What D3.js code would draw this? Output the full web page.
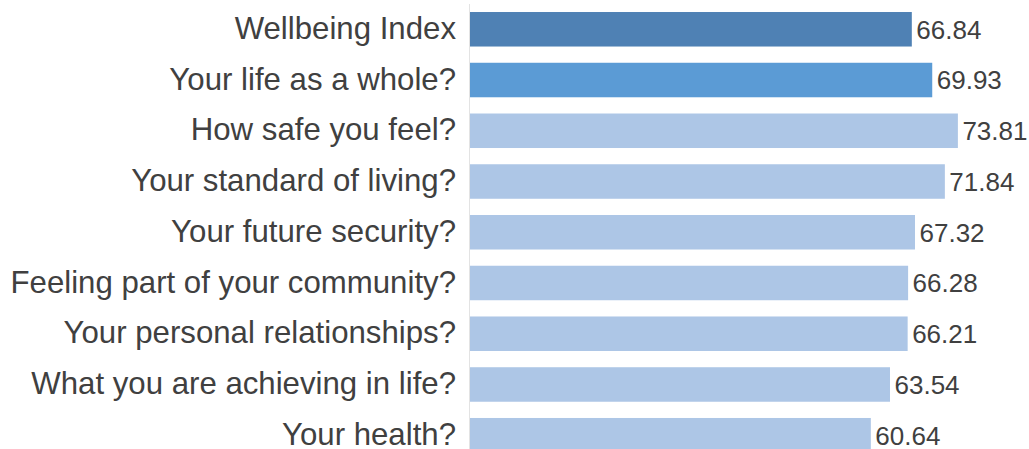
<!DOCTYPE html>
<html>
<head>
<meta charset="utf-8">
<script src="https://cdn.jsdelivr.net/npm/d3@7"></script>
<style>
  html, body { margin: 0; padding: 0; background: #fff; }
  svg { display: block; }
</style>
</head>
<body>
<svg id="chart" width="1029" height="449"></svg>
<script>
// Satisfaction scores, top to bottom
const categories = [
  "Wellbeing Index",
  "Your life as a whole?",
  "How safe you feel?",
  "Your standard of living?",
  "Your future security?",
  "Feeling part of your community?",
  "Your personal relationships?",
  "What you are achieving in life?",
  "Your health?"
];
const scores = [66.84, 69.93, 73.81, 71.84, 67.32, 66.28, 66.21, 63.54, 60.64];
const barColors = ["#4f81b4", "#5b9bd5", "#adc6e6", "#adc6e6", "#adc6e6", "#adc6e6", "#adc6e6", "#adc6e6", "#adc6e6"];

const svg = d3.select("#chart");
const font = "'Liberation Sans', Arial, sans-serif";
const textColor = "#404040";

const x = d3.scaleLinear().domain([0, 80]).range([470, 998.8]);
const y = d3.scaleBand().domain(categories).range([3.9, 460.6])
  .paddingInner(0.32).paddingOuter(0.16);

// Category axis line
svg.append("line")
  .attr("x1", x(0) - 0.5).attr("x2", x(0) - 0.5)
  .attr("y1", 4).attr("y2", 449)
  .attr("stroke", "#e3e3e3").attr("stroke-width", 1);

const data = categories.map((c, i) => ({ c, v: scores[i], color: barColors[i] }));

svg.append("g").selectAll("rect")
  .data(data).join("rect")
  .attr("x", x(0))
  .attr("y", d => y(d.c))
  .attr("width", d => x(d.v) - x(0))
  .attr("height", y.bandwidth())
  .attr("fill", d => d.color);

// Category labels
svg.append("g").selectAll("text")
  .data(data).join("text")
  .attr("x", 456)
  .attr("y", d => y(d.c) + y.bandwidth() / 2 - 1.5)
  .attr("dy", "0.358em")
  .attr("text-anchor", "end")
  .attr("font-family", font)
  .attr("font-size", 31.2)
  .attr("fill", textColor)
  .text(d => d.c);

// Value labels
svg.append("g").selectAll("text")
  .data(data).join("text")
  .attr("x", d => x(d.v) + 4.5)
  .attr("y", d => y(d.c) + y.bandwidth() / 2)
  .attr("dy", "0.36em")
  .attr("font-family", font)
  .attr("font-size", 26)
  .attr("fill", textColor)
  .text(d => d3.format(".2f")(d.v));
</script>
</body>
</html>
